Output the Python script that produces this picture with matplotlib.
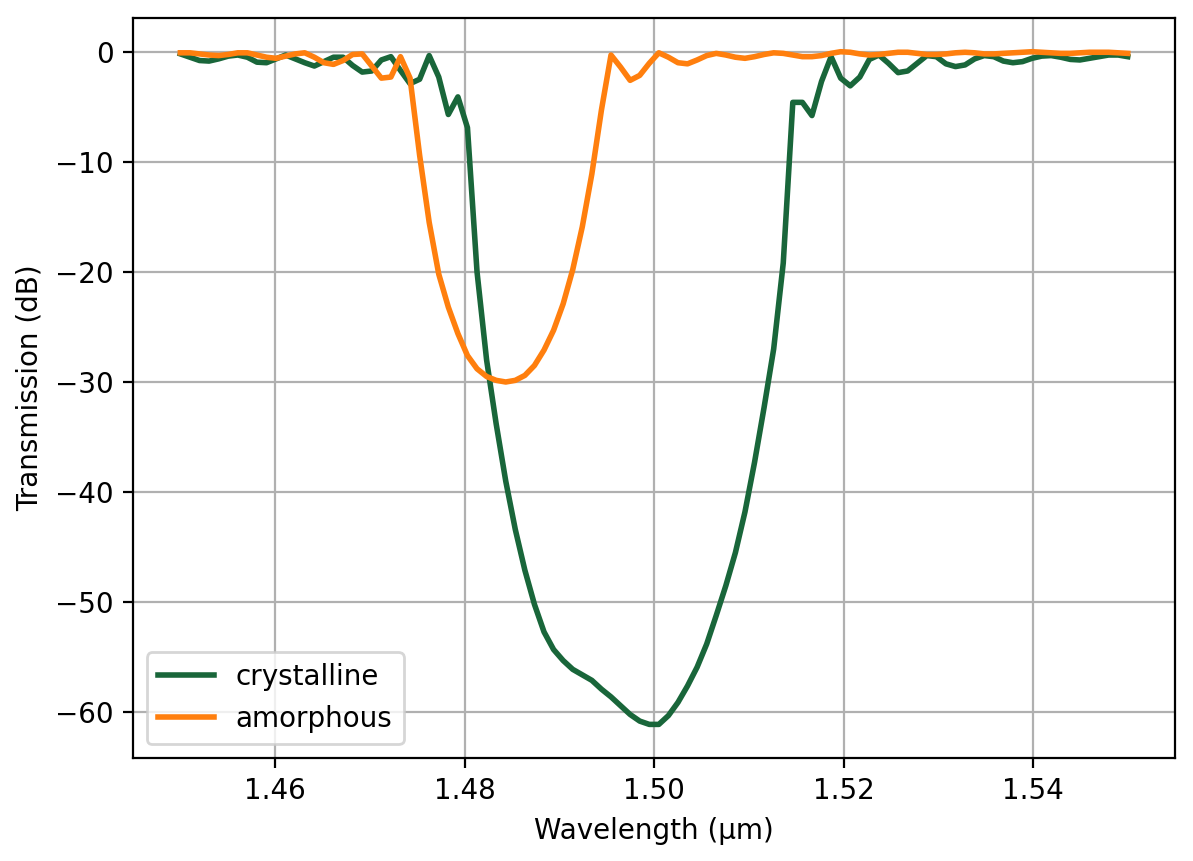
import numpy as np
import matplotlib
matplotlib.use("Agg")
import matplotlib.pyplot as plt

# wavelength grid (um), 100 samples
wavelength = np.linspace(1.45, 1.55, 100)

# transmission (dB)
crystalline = [
    -0.2, -0.5, -0.8, -0.85, -0.65, -0.4, -0.3, -0.5, -0.95, -1.0,
    -0.65, -0.3, -0.65, -1.0, -1.3, -0.9, -0.5, -0.5, -1.25, -1.85,
    -1.75, -0.75, -0.45, -1.7, -2.9, -2.5, -0.35, -2.3, -5.7, -4.1,
    -6.9, -20.0, -28.0, -33.8, -39.0, -43.4, -47.1, -50.2, -52.7, -54.3,
    -55.3, -56.1, -56.6, -57.1, -57.9, -58.6, -59.4, -60.2, -60.8, -61.1,
    -61.1, -60.3, -59.1, -57.6, -55.9, -53.8, -51.2, -48.5, -45.5, -41.8,
    -37.3, -32.3, -27.0, -19.2, -4.6, -4.6, -5.8, -2.7, -0.45, -2.4,
    -3.1, -2.3, -0.7, -0.3, -1.05, -1.9, -1.75, -1.05, -0.35, -0.45,
    -1.1, -1.35, -1.2, -0.65, -0.35, -0.45, -0.85, -1.0, -0.9, -0.6,
    -0.4, -0.35, -0.5, -0.7, -0.75, -0.6, -0.45, -0.3, -0.3, -0.45,
]
amorphous = [
    -0.1, -0.1, -0.2, -0.3, -0.35, -0.25, -0.1, -0.1, -0.3, -0.5,
    -0.6, -0.4, -0.2, -0.1, -0.5, -1.0, -1.15, -0.8, -0.25, -0.2,
    -1.3, -2.4, -2.3, -0.45, -2.4, -9.4, -15.5, -20.2, -23.2, -25.6,
    -27.6, -28.8, -29.5, -29.85, -30.0, -29.85, -29.4, -28.5, -27.1, -25.3,
    -22.9, -19.8, -15.9, -11.1, -5.3, -0.3, -1.4, -2.6, -2.15, -1.05,
    -0.1, -0.5, -1.0, -1.1, -0.75, -0.35, -0.15, -0.3, -0.5, -0.6,
    -0.45, -0.25, -0.1, -0.15, -0.3, -0.45, -0.45, -0.35, -0.15, 0.0,
    -0.05, -0.2, -0.3, -0.25, -0.15, -0.05, -0.05, -0.15, -0.25, -0.25,
    -0.2, -0.1, -0.05, -0.1, -0.2, -0.2, -0.15, -0.1, -0.05, 0.0,
    -0.05, -0.1, -0.15, -0.15, -0.1, -0.05, -0.05, -0.05, -0.1, -0.15,
]

fig, ax = plt.subplots(figsize=(5.965, 4.305), dpi=200)
fig.subplots_adjust(left=0.1115, right=0.985, top=0.979, bottom=0.1196)

ax.plot(wavelength, crystalline, color="#19663a", linewidth=2, label="crystalline")
ax.plot(wavelength, amorphous, color="#ff7f0e", linewidth=2, label="amorphous")

ax.set_xlabel("Wavelength (µm)")
ax.set_ylabel("Transmission (dB)")
ax.set_xticks([1.46, 1.48, 1.50, 1.52, 1.54])
ax.grid(True)
ax.legend(loc="lower left")

fig.savefig("out.png", dpi=200)
